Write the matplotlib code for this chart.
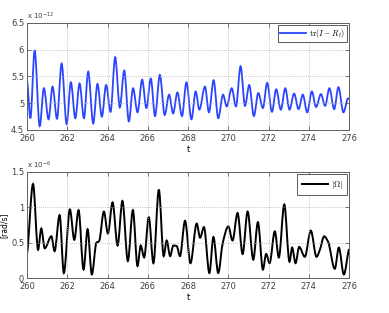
import numpy as np
import matplotlib
matplotlib.use('Agg')
import matplotlib.pyplot as plt
from matplotlib.path import Path
from matplotlib.patches import PathPatch
from matplotlib.lines import Line2D

# top panel: tr(I - R_t), turning points (units of 1e-12)
tr_t = [260.00, 260.17, 260.38, 260.63, 260.84, 261.07, 261.27, 261.49, 261.72, 261.97,
        262.18, 262.40, 262.61, 262.83, 263.04, 263.29, 263.50, 263.72, 263.93, 264.15,
        264.38, 264.61, 264.83, 265.06, 265.27, 265.49, 265.72, 265.93, 266.15, 266.36,
        266.60, 266.84, 267.06, 267.26, 267.47, 267.70, 267.92, 268.17, 268.38, 268.56,
        268.84, 269.04, 269.27, 269.50, 269.74, 269.92, 270.17, 270.38, 270.61, 270.83,
        271.04, 271.27, 271.49, 271.72, 271.93, 272.17, 272.38, 272.61, 272.83, 273.04,
        273.27, 273.49, 273.70, 273.92, 274.15, 274.36, 274.60, 274.81, 275.02, 275.26,
        275.47, 275.72, 275.95, 276.00]
tr_v = [5.44, 4.72, 5.99, 4.57, 5.28, 4.70, 5.31, 4.71, 5.74, 4.61,
        5.39, 4.72, 5.37, 4.72, 5.59, 4.62, 5.36, 4.75, 5.34, 4.84,
        5.86, 4.92, 5.61, 4.66, 5.28, 4.83, 5.44, 4.91, 5.46, 4.76,
        5.53, 4.78, 5.16, 4.81, 5.20, 4.76, 5.39, 4.70, 5.22, 4.88,
        5.31, 4.83, 5.43, 4.72, 5.16, 4.94, 5.28, 4.94, 5.69, 4.95,
        5.34, 4.76, 5.19, 4.91, 5.38, 4.84, 5.26, 4.88, 5.28, 4.88,
        5.18, 4.89, 5.16, 4.83, 5.22, 4.93, 5.17, 4.95, 5.28, 4.89,
        5.30, 4.83, 5.09, 5.08]

# bottom panel: |Omega| (units of 1e-6 rad/s)
om_t = [260.00, 260.30, 260.55, 260.71, 260.88, 261.21, 261.37, 261.62, 261.83, 262.13,
        262.35, 262.56, 262.81, 263.01, 263.22, 263.45, 263.58, 263.82, 264.02, 264.25,
        264.50, 264.74, 265.01, 265.26, 265.49, 265.65, 265.82, 266.05, 266.28, 266.55,
        266.79, 266.94, 267.11, 267.27, 267.44, 267.60, 267.85, 268.12, 268.43, 268.60,
        268.79, 269.06, 269.26, 269.50, 269.72, 270.00, 270.21, 270.46, 270.71, 270.96,
        271.24, 271.47, 271.72, 271.88, 272.05, 272.31, 272.51, 272.78, 273.04, 273.17,
        273.34, 273.52, 273.80, 274.10, 274.38, 274.55, 274.76, 274.96, 275.29, 275.49,
        275.74, 276.00]
om_v = [0.34, 1.33, 0.40, 0.70, 0.42, 0.59, 0.38, 0.89, 0.07, 0.97,
        0.54, 0.96, 0.12, 0.69, 0.05, 0.50, 0.52, 0.94, 0.63, 1.07,
        0.46, 1.09, 0.24, 0.96, 0.17, 0.46, 0.29, 0.86, 0.21, 1.25,
        0.31, 0.53, 0.31, 0.46, 0.45, 0.31, 0.81, 0.21, 0.77, 0.57,
        0.72, 0.07, 0.58, 0.07, 0.49, 0.73, 0.53, 0.92, 0.34, 0.94,
        0.26, 0.79, 0.12, 0.34, 0.21, 0.66, 0.29, 1.04, 0.23, 0.43,
        0.21, 0.44, 0.30, 0.67, 0.30, 0.40, 0.59, 0.51, 0.13, 0.43,
        0.05, 0.41]

xticks = [260, 262, 264, 266, 268, 270, 272, 274, 276]


def smooth_path(x, y):
    # monotone cubic bezier through the read points
    x = np.asarray(x, float)
    y = np.asarray(y, float)
    d = np.diff(y) / np.diff(x)
    m = np.zeros_like(y)
    for i in range(1, len(y) - 1):
        if d[i - 1] * d[i] > 0:
            m[i] = 2 / (1 / d[i - 1] + 1 / d[i])
    m[0], m[-1] = d[0] * 0.5, d[-1] * 0.5
    verts = [(x[0], y[0])]
    codes = [Path.MOVETO]
    for i in range(len(x) - 1):
        h = x[i + 1] - x[i]
        verts += [(x[i] + h / 3, y[i] + m[i] * h / 3),
                  (x[i + 1] - h / 3, y[i + 1] - m[i + 1] * h / 3),
                  (x[i + 1], y[i + 1])]
        codes += [Path.CURVE4] * 3
    return Path(verts, codes)


def style(ax):
    ax.tick_params(direction='in', labelsize=6, length=3, width=0.5,
                   colors='#404040', top=True, right=True)
    ax.tick_params(axis='x', pad=3)
    ax.tick_params(axis='y', pad=2)
    for s in ax.spines.values():
        s.set_color('#606060')
        s.set_linewidth(0.7)
    ax.grid(True, linestyle=':', color='#b0b0b0', linewidth=0.6)
    ax.set_xlim(260, 276)
    ax.set_xticks(xticks)


legend_font = {'size': 6, 'math_fontfamily': 'cm'}

fig = plt.figure(figsize=(3.89, 3.13), dpi=100)
ax1 = fig.add_axes([0.0694, 0.5847, 0.828, 0.342])
ax2 = fig.add_axes([0.0694, 0.1118, 0.828, 0.3387])

blue = '#2a45ff'
ax1.add_patch(PathPatch(smooth_path(tr_t, tr_v), fill=False, edgecolor=blue, lw=1.3))
style(ax1)
ax1.set_ylim(4.5, 6.5)
ax1.set_yticks([4.5, 5, 5.5, 6, 6.5])
ax1.set_yticklabels(['4.5', '5', '5.5', '6', '6.5'])
ax1.set_xlabel('t', fontsize=6, labelpad=1)
ax1.text(0, 1.01, r'x 10$^{-12}$', transform=ax1.transAxes, fontsize=5, color='#404040',
         va='bottom', ha='left')
ax1.legend([Line2D([], [], color=blue, lw=1.3)], [r'$\mathrm{tr}(I-R_t)$'],
           loc='upper right', prop=legend_font, fancybox=False, edgecolor='#404040',
           borderpad=0.2, handlelength=3.2, borderaxespad=0.3, handletextpad=0.3,
           framealpha=1).get_frame().set_linewidth(0.6)

ax2.add_patch(PathPatch(smooth_path(om_t, om_v), fill=False, edgecolor='black', lw=1.4))
style(ax2)
ax2.set_ylim(0, 1.5)
ax2.set_yticks([0, 0.5, 1, 1.5])
ax2.set_yticklabels(['0', '0.5', '1', '1.5'])
ax2.set_xlabel('t', fontsize=6, labelpad=1)
ax2.set_ylabel('[rad/s]', fontsize=5.5, labelpad=2)
ax2.text(0, 1.01, r'x 10$^{-6}$', transform=ax2.transAxes, fontsize=5, color='#404040',
         va='bottom', ha='left')
ax2.legend([Line2D([], [], color='black', lw=1.4)], [r'$|\Omega|$'],
           loc='upper right', prop=legend_font, fancybox=False, edgecolor='#404040',
           borderpad=0.5, handlelength=3.2, borderaxespad=0.3, handletextpad=0.3,
           framealpha=1).get_frame().set_linewidth(0.6)

fig.savefig('out.png', dpi=100)
